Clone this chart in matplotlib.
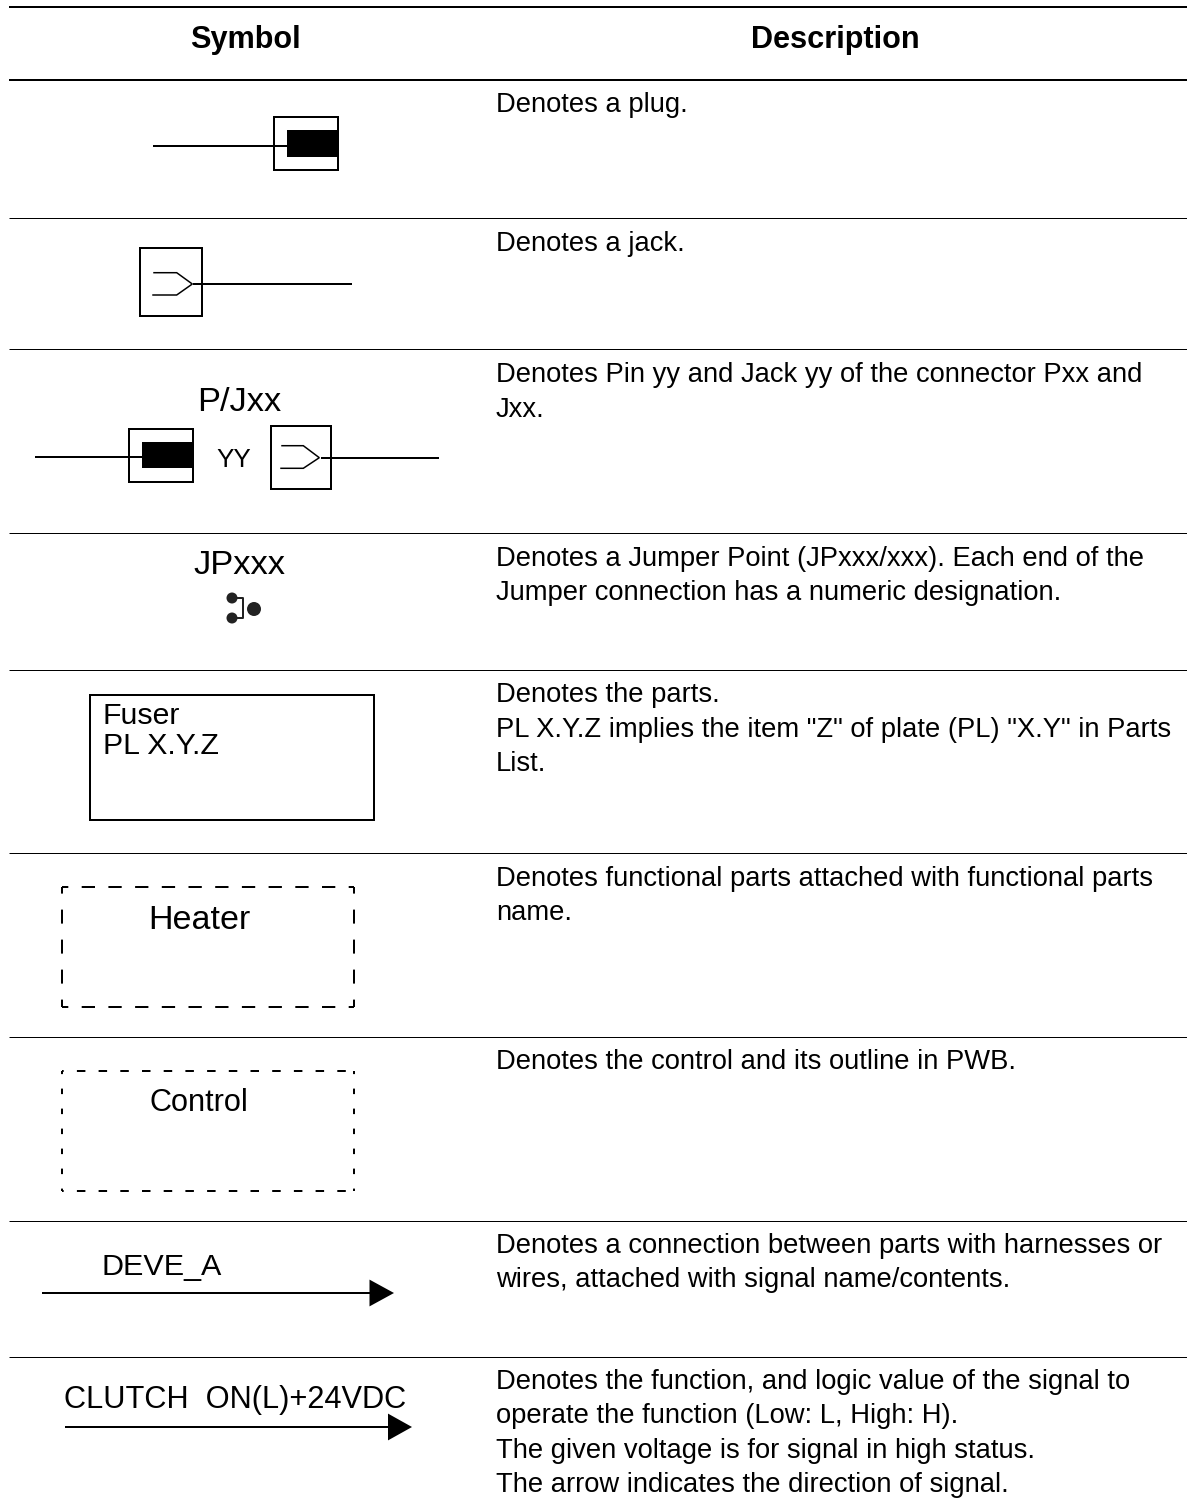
import matplotlib
matplotlib.use('Agg')
import matplotlib.pyplot as plt
from matplotlib.patches import Rectangle, Polygon, Circle

plt.rcParams['font.family'] = ['Liberation Sans', 'DejaVu Sans']
plt.rcParams['lines.scale_dashes'] = False

PX = 0.72  # one pixel in points at dpi 100

# Table rules (y position, thick or not)
rule_y = [7, 79.5, 218, 349, 533, 670, 853, 1037, 1221, 1357]
rule_px = [2, 2, 1, 1, 1, 1, 1, 1, 1, 1]

# Header
headers = ['Symbol', 'Description']
header_x = [245.5, 835]

# Right column: (text, baseline)
desc_lines = ['Denotes a plug.',
              'Denotes a jack.',
              'Denotes Pin yy and Jack yy of the connector Pxx and',
              'Jxx.',
              'Denotes a Jumper Point (JPxxx/xxx). Each end of the',
              'Jumper connection has a numeric designation.',
              'Denotes the parts.',
              'PL X.Y.Z implies the item "Z" of plate (PL) "X.Y" in Parts',
              'List.',
              'Denotes functional parts attached with functional parts',
              'name.',
              'Denotes the control and its outline in PWB.',
              'Denotes a connection between parts with harnesses or',
              'wires, attached with signal name/contents.',
              'Denotes the function, and logic value of the signal to',
              'operate the function (Low: L, High: H).',
              'The given voltage is for signal in high status.',
              'The arrow indicates the direction of signal.']
desc_y = [112, 251, 382, 417, 566, 600, 702, 737, 771, 886, 920, 1069, 1253,
          1287, 1389, 1423, 1458, 1492]

# Labels inside the left column: text, x, baseline, size in px, anchor
sym_labels = ['P/Jxx', 'YY', 'JPxxx', 'Fuser', 'PL X.Y.Z', 'Heater', 'Control',
              'DEVE_A', 'CLUTCH  ON(L)+24VDC']
sym_x = [239, 233.5, 239, 102.5, 103, 199.5, 198.5, 101.7, 63.5]
sym_y = [411, 467, 574, 724, 754, 929.3, 1110.7, 1275, 1408.3]
sym_px = [34.4, 26, 34.5, 30.2, 30.2, 34, 30.7, 30.5, 30.8]
sym_ha = ['center', 'center', 'center', 'left', 'left', 'center', 'center', 'left', 'left']

# Plug symbols: wire x0, wire y, box (x0, y0, x1, y1), fill (x0, y0, x1, y1)
plug_wire = [(153, 287, 146), (35, 142, 457)]
plug_box = [(274, 117, 338, 170), (129, 429, 193, 482)]
plug_fill = [(287, 130, 338, 156.5), (142, 442, 193, 468)]

# Jack symbols
jack_box = [(140, 248, 202, 316), (271, 426, 331, 489)]
jack_wire = [(193, 352, 284), (321, 439, 457.7)]
jack_fork_x = [(154, 176.7, 192.3, 176.7, 153), (282, 303.3, 319.3, 303.3, 281)]
jack_fork_y = [(272.7, 272.7, 284, 295, 295), (445.7, 445.7, 457.7, 468.3, 468.3)]

# Jumper point
jumper_x = [232, 243, 243, 232]
jumper_y = [598, 598, 618, 618]
dot_x = [232, 232, 254]
dot_y = [598, 618, 609]
dot_r = [5.5, 5.5, 7]

# Fuser box
part_box = (90, 695, 374, 820)

# Dashed boxes: box, horizontal (offset, on, off), vertical (offset, on, off)
dash_box = [(62, 887, 354, 1007), (62, 1071, 354, 1191)]
dash_h = [(7, 13.3, 13.4), (6.8, 8.5, 13.2)]
dash_v = [(7.4, 14, 16), (2.4, 5.5, 14.5)]

# Arrows: x0, base of head, tip, y, half height of head
arrow_x0 = [42, 65]
arrow_base = [369.5, 388]
arrow_tip = [394, 412]
arrow_y = [1293, 1427]
arrow_hh = [13.4, 13.4]

fig = plt.figure(figsize=(11.87, 15.10), dpi=100)
ax = fig.add_axes([0, 0, 1, 1])
ax.set_xlim(0, 1187)
ax.set_ylim(1510, 0)
ax.axis('off')

LW = 2 * PX


def box(b, lw=LW):
    ax.add_patch(Rectangle((b[0], b[1]), b[2] - b[0], b[3] - b[1], fill=False,
                           edgecolor='black', linewidth=lw))


for y, w in zip(rule_y, rule_px):
    ax.plot([9, 1187], [y, y], color='black', lw=w * PX, solid_capstyle='butt')

for t, x in zip(headers, header_x):
    ax.text(x, 48, t, ha='center', va='baseline', fontsize=30.6 * PX,
            fontweight='bold', color='black')

for t, y in zip(desc_lines, desc_y):
    ax.text(496, y, t, ha='left', va='baseline', fontsize=27.35 * PX, color='black')

for t, x, y, s, h in zip(sym_labels, sym_x, sym_y, sym_px, sym_ha):
    ax.text(x, y, t, ha=h, va='baseline', fontsize=s * PX, color='black')

for w, b, f in zip(plug_wire, plug_box, plug_fill):
    ax.plot(w[:2], [w[2], w[2]], color='black', lw=LW, solid_capstyle='butt')
    box(b)
    ax.add_patch(Rectangle((f[0], f[1]), f[2] - f[0], f[3] - f[1], color='black', lw=0))

for b, w, fx, fy in zip(jack_box, jack_wire, jack_fork_x, jack_fork_y):
    box(b)
    ax.plot(w[:2], [w[2], w[2]], color='black', lw=LW, solid_capstyle='butt')
    ax.plot(fx, fy, color='black', lw=1.5 * PX, solid_joinstyle='miter')

ax.plot(jumper_x, jumper_y, color='#222222', lw=2 * PX)
for x, y, r in zip(dot_x, dot_y, dot_r):
    ax.add_patch(Circle((x, y), r, color='#222222', lw=0))

box(part_box)

for b, h, v in zip(dash_box, dash_h, dash_v):
    hs = (h[0] * PX, (h[1] * PX, h[2] * PX))
    vs = (v[0] * PX, (v[1] * PX, v[2] * PX))
    for y in (b[1], b[3]):
        ax.plot([b[0], b[2]], [y, y], color='black', lw=LW, linestyle=hs, dash_capstyle='butt')
    for x in (b[0], b[2]):
        ax.plot([x, x], [b[1], b[3]], color='black', lw=LW, linestyle=vs, dash_capstyle='butt')

for x0, xb, xt, y, hh in zip(arrow_x0, arrow_base, arrow_tip, arrow_y, arrow_hh):
    ax.plot([x0, xb], [y, y], color='black', lw=LW, solid_capstyle='butt')
    ax.add_patch(Polygon([(xb, y - hh), (xt, y), (xb, y + hh)], closed=True,
                         color='black', lw=0))

fig.savefig('out.png', dpi=100, facecolor='white')
